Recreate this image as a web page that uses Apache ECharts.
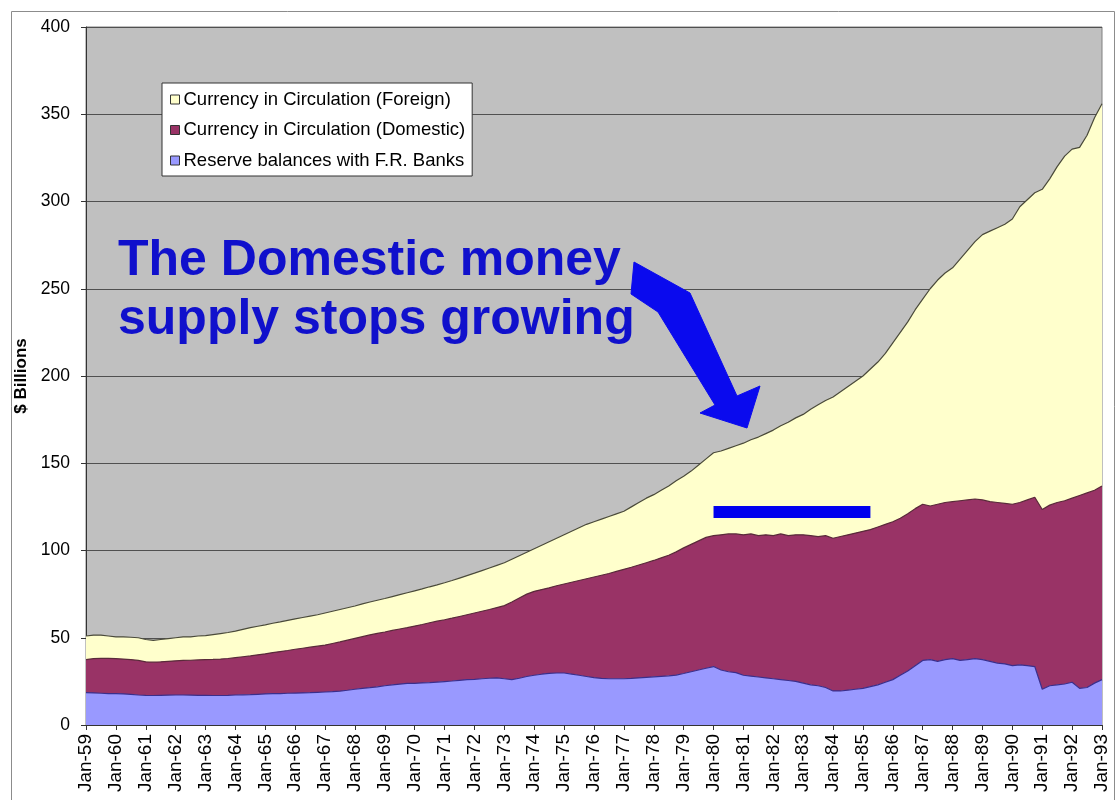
<!DOCTYPE html>
<html><head><meta charset="utf-8">
<script src="https://cdn.jsdelivr.net/npm/echarts@6/dist/echarts.min.js"></script>
<style>html,body{margin:0;padding:0;background:#fff}#c{width:1116px;height:800px}</style>
</head><body><div id="c"></div>
<script>
// quarterly observations, Jan-59 .. Jan-93
const quarterMonths = ['Jan', 'Apr', 'Jul', 'Oct'];
const categories = [];
for (let y = 59; y <= 92; y++) for (const m of quarterMonths) categories.push(m + '-' + y);
categories.push('Jan-93');

// cumulative levels ($ billions)
const reserveLevel = [
  18.5,18.4,18.2,18.0, 18.0,17.8,17.5,17.2, 17.0,16.9,17.0,17.1, 17.2,17.2,17.1,17.0,
  17.0,16.9,16.9,17.0, 17.2,17.3,17.4,17.6, 17.8,18.0,18.0,18.2, 18.3,18.4,18.5,18.7,
  18.9,19.1,19.4,19.9, 20.5,21.0,21.4,21.9, 22.5,23.0,23.4,23.8, 23.9,24.1,24.3,24.6,
  24.9,25.2,25.6,26.0, 26.2,26.5,26.8,27.0, 26.5,26.0,26.8,27.8, 28.5,29.1,29.6,29.8,
  29.8,29.2,28.5,27.8, 27.1,26.7,26.5,26.5, 26.5,26.7,27.0,27.3, 27.6,27.9,28.2,28.6,
  29.5,30.5,31.5,32.5, 33.5,31.5,30.5,30.0, 28.5,28.0,27.5,27.0, 26.5,26.0,25.5,25.0,
  24.0,23.0,22.5,21.5, 19.5,19.5,20.0,20.5, 21.0,22.0,23.0,24.5, 26.0,28.5,31.0,34.0,
  37.0,37.5,36.5,37.5, 38.0,37.0,37.5,38.0, 37.5,36.5,35.5,35.0, 34.0,34.5,34.0,33.5,
  20.5,22.5,23.0,23.5, 24.5,21.0,21.5,24.0, 26.0
];
const domesticLevel = [
  37.5,38.0,38.2,38.2, 38.0,37.8,37.5,37.0, 36.2,36.0,36.2,36.5, 36.8,37.0,37.1,37.3,
  37.5,37.6,37.8,38.1, 38.6,39.1,39.6,40.2, 40.8,41.5,42.1,42.7, 43.4,44.0,44.6,45.2,
  45.8,46.7,47.6,48.6, 49.6,50.6,51.6,52.5, 53.3,54.2,55.0,55.8, 56.7,57.6,58.6,59.5,
  60.3,61.2,62.2,63.2, 64.2,65.2,66.2,67.3, 68.4,70.5,72.8,75.0, 76.6,77.6,78.6,79.8,
  80.8,81.8,82.8,83.8, 84.8,85.8,86.8,88.0, 89.2,90.4,91.7,93.0, 94.3,95.8,97.3,99.2,
  101.5,103.5,105.5,107.5, 108.5,109.0,109.5,109.5, 109.0,109.5,108.5,109.0, 108.5,109.5,108.5,109.0,
  109.0,108.5,108.0,108.5, 107.0,108.0,109.0,110.0, 111.0,112.0,113.5,115.0, 116.5,118.5,121.0,124.0,
  126.5,125.5,126.5,127.5, 128.0,128.5,129.0,129.5, 129.0,128.0,127.5,127.0, 126.5,127.5,129.0,130.5,
  123.5,126.0,127.5,128.5, 130.0,131.5,133.0,134.5, 137.0
];
const totalLevel = [
  51.0,51.5,51.5,51.0, 50.5,50.5,50.3,50.0, 49.0,48.5,49.0,49.5, 50.0,50.5,50.5,51.0,
  51.2,51.8,52.4,53.0, 53.8,54.8,55.8,56.6, 57.4,58.3,59.1,60.0, 60.8,61.6,62.4,63.2,
  64.2,65.2,66.2,67.2, 68.2,69.4,70.5,71.5, 72.5,73.6,74.7,75.8, 76.9,78.0,79.2,80.3,
  81.5,82.8,84.2,85.6, 87.0,88.5,90.0,91.5, 93.0,95.0,97.0,99.0, 101.0,103.0,105.0,107.0,
  109.0,111.0,113.0,115.0, 116.5,118.0,119.5,121.0, 122.5,125.0,127.5,130.0, 132.0,134.5,137.0,140.0,
  142.5,145.5,149.0,152.5, 156.0,157.0,158.5,160.0, 161.5,163.5,165.0,167.0, 169.0,171.5,173.5,176.0,
  178.0,181.0,183.5,186.0, 188.0,191.0,194.0,197.0, 200.0,204.0,208.0,213.0, 219.0,225.0,231.0,238.0,
  244.0,250.0,255.0,259.0, 262.0,267.0,272.0,277.0, 281.0,283.0,285.0,287.0, 290.0,297.0,301.0,305.0,
  307.0,313.0,320.0,326.0, 330.0,331.0,338.0,348.0, 356.0
];

const seriesNames = [
  'Currency in Circulation (Foreign)',
  'Currency in Circulation (Domestic)',
  'Reserve balances with F.R. Banks'
];
const annotationLines = ['The Domestic money', 'supply stops growing'];
const flatRange = ['Jan-80', 'Apr-85'];
const flatLevel = 122;

// stacked components
const reserveValues = reserveLevel.slice();
const domesticValues = domesticLevel.map((v, i) => +(v - reserveLevel[i]).toFixed(2));
const foreignValues = totalLevel.map((v, i) => +(v - domesticLevel[i]).toFixed(2));

const FONT = '"Liberation Sans", Arial, sans-serif';
const chart = echarts.init(document.getElementById('c'), null, { renderer: 'canvas' });

chart.setOption({
  animation: false,
  backgroundColor: '#ffffff',
  textStyle: { fontFamily: FONT },
  grid: {
    left: 86, right: 14, top: 27, bottom: 75,
    show: true, backgroundColor: '#C0C0C0', borderColor: '#808080', borderWidth: 1
  },
  legend: {
    data: seriesNames,
    orient: 'vertical',
    left: 162, top: 83,
    padding: [7, 7, 6, 8],
    itemGap: 11.5,
    itemWidth: 9, itemHeight: 9,
    itemStyle: { borderColor: '#333333', borderWidth: 1 },
    icon: 'rect',
    backgroundColor: '#ffffff',
    borderColor: '#333333', borderWidth: 1, borderRadius: 0,
    textStyle: { fontFamily: FONT, fontSize: 18.5, color: '#000000', padding: [0, 0, 0, -1] },
    selectedMode: false
  },
  xAxis: {
    type: 'category',
    data: categories,
    boundaryGap: false,
    axisLine: { lineStyle: { color: '#333333', width: 1 } },
    axisTick: { interval: 3, length: 5, lineStyle: { color: '#333333' } },
    axisLabel: {
      interval: 3, rotate: 90, fontSize: 19, color: '#000000', fontFamily: FONT, margin: 9
    },
    splitLine: { show: false }
  },
  yAxis: {
    type: 'value',
    min: 0, max: 400, interval: 50,
    name: '$ Billions',
    nameLocation: 'middle', nameRotate: 90, nameGap: 55,
    nameTextStyle: { fontSize: 17, fontWeight: 'bold', color: '#000000', fontFamily: FONT },
    axisLine: { show: true, lineStyle: { color: '#333333' } },
    axisTick: { show: true, length: 5, lineStyle: { color: '#333333' } },
    axisLabel: { fontSize: 17.5, color: '#000000', fontFamily: FONT, margin: 16 },
    splitLine: { lineStyle: { color: '#505050', width: 1 } }
  },
  series: [
    {
      name: seriesNames[2], type: 'line', stack: 'money', data: reserveValues,
      symbol: 'none', z: 3,
      lineStyle: { color: '#3A2E8C', width: 1.2 },
      itemStyle: { color: '#9999FF' },
      areaStyle: { color: '#9999FF', opacity: 1 }
    },
    {
      name: seriesNames[1], type: 'line', stack: 'money', data: domesticValues,
      symbol: 'none', z: 2,
      lineStyle: { color: '#5A2A3A', width: 1.2 },
      itemStyle: { color: '#993366' },
      areaStyle: { color: '#993366', opacity: 1 },
      markLine: {
        silent: true, symbol: ['none', 'none'],
        label: { show: false },
        lineStyle: { color: '#0000EE', width: 12, type: 'solid', cap: 'butt' },
        data: [[
          { coord: [categories.indexOf(flatRange[0]), flatLevel] },
          { coord: [categories.indexOf(flatRange[1]), flatLevel] }
        ]]
      }
    },
    {
      name: seriesNames[0], type: 'line', stack: 'money', data: foreignValues,
      symbol: 'none', z: 1,
      lineStyle: { color: '#4A4A3A', width: 1.2 },
      itemStyle: { color: '#FFFFCC' },
      areaStyle: { color: '#FFFFCC', opacity: 1 }
    }
  ],
  graphic: [
    {
      type: 'rect', silent: true, z: 100,
      shape: { x: 11.5, y: 11.5, width: 1103, height: 800 },
      style: { fill: 'none', stroke: '#8C8C8C', lineWidth: 1 }
    },
    {
      type: 'text', left: 118, top: 236, z: 100,
      style: {
        text: annotationLines[0], fill: '#1010CC',
        font: 'bold 50px "Liberation Sans", Arial, sans-serif'
      }
    },
    {
      type: 'text', left: 118, top: 295, z: 100,
      style: {
        text: annotationLines[1], fill: '#1010CC',
        font: 'bold 50px "Liberation Sans", Arial, sans-serif'
      }
    },
    {
      type: 'polygon', z: 100, silent: true,
      shape: { points: [[634,262],[690,293],[737,396],[760,386],[747,428],[700,413],[715,405],[658,312],[631,294]] },
      style: { fill: '#0A0AEE', stroke: '#0A0AEE', lineWidth: 1 }
    }
  ]
});
</script></body></html>
